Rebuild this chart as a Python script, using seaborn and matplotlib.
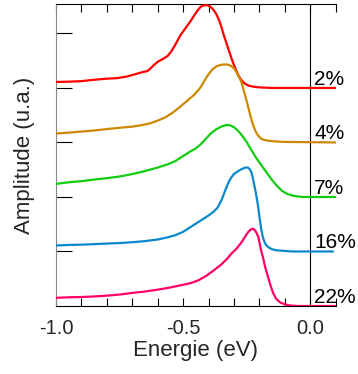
import numpy as np
import pandas as pd
import matplotlib
matplotlib.use("Agg")
import matplotlib.pyplot as plt
import seaborn as sns
from matplotlib.ticker import MultipleLocator, FixedLocator

# ---- data ----
labels = ["2%", "4%", "7%", "16%", "22%"]
offsets = [4, 3, 2, 1, 0]
colors = ["#FF0000", "#CC8800", "#11CC11", "#0A88CC", "#FF0066"]

x_2 = [-1.00, -0.95, -0.90, -0.85, -0.80, -0.76, -0.72, -0.69, -0.66, -0.64, -0.63, -0.615,
       -0.60, -0.58, -0.56, -0.545, -0.53, -0.51, -0.49, -0.47, -0.455, -0.44, -0.43, -0.42,
       -0.41, -0.40, -0.39, -0.38, -0.37, -0.36, -0.35, -0.34, -0.33, -0.32, -0.31, -0.30,
       -0.29, -0.28, -0.27, -0.26, -0.25, -0.24, -0.22, -0.20, -0.15, 0.10]
y_2 = [0.11, 0.115, 0.125, 0.15, 0.17, 0.18, 0.21, 0.25, 0.29, 0.31, 0.35, 0.42,
       0.48, 0.53, 0.59, 0.68, 0.80, 0.97, 1.10, 1.23, 1.34, 1.44, 1.49, 1.515,
       1.52, 1.51, 1.48, 1.43, 1.36, 1.26, 1.13, 0.97, 0.83, 0.69, 0.55, 0.42,
       0.31, 0.21, 0.14, 0.09, 0.06, 0.04, 0.02, 0.01, 0.0, 0.0]

x_4 = [-1.00, -0.95, -0.90, -0.85, -0.80, -0.75, -0.70, -0.66, -0.63, -0.60, -0.57, -0.54,
       -0.51, -0.48, -0.46, -0.44, -0.43, -0.42, -0.41, -0.40, -0.39, -0.38, -0.37, -0.355,
       -0.34, -0.325, -0.31, -0.30, -0.29, -0.28, -0.27, -0.26, -0.25, -0.24, -0.23, -0.22,
       -0.21, -0.20, -0.19, -0.17, -0.14, -0.10, 0.10]
y_4 = [0.165, 0.18, 0.20, 0.22, 0.245, 0.27, 0.29, 0.32, 0.35, 0.40, 0.46, 0.55,
       0.66, 0.78, 0.86, 0.96, 1.02, 1.10, 1.18, 1.25, 1.31, 1.36, 1.39, 1.42,
       1.43, 1.43, 1.40, 1.36, 1.29, 1.20, 1.10, 0.93, 0.76, 0.58, 0.40, 0.26,
       0.16, 0.10, 0.06, 0.035, 0.02, 0.01, 0.0]

x_7 = [-1.00, -0.95, -0.90, -0.85, -0.80, -0.75, -0.70, -0.65, -0.60, -0.56, -0.53, -0.50,
       -0.47, -0.45, -0.43, -0.41, -0.39, -0.37, -0.35, -0.33, -0.315, -0.30, -0.285, -0.27,
       -0.25, -0.23, -0.21, -0.19, -0.17, -0.15, -0.13, -0.11, -0.09, -0.07, -0.05, -0.03,
       0.10]
y_7 = [0.24, 0.27, 0.29, 0.32, 0.345, 0.375, 0.42, 0.475, 0.54, 0.60, 0.66, 0.75,
       0.84, 0.89, 0.97, 1.07, 1.17, 1.24, 1.29, 1.32, 1.315, 1.28, 1.22, 1.14,
       1.01, 0.85, 0.70, 0.57, 0.44, 0.31, 0.20, 0.11, 0.055, 0.025, 0.01, 0.0,
       0.0]

x_16 = [-1.00, -0.95, -0.90, -0.85, -0.80, -0.75, -0.70, -0.65, -0.60, -0.56, -0.53, -0.50,
        -0.48, -0.46, -0.44, -0.42, -0.40, -0.38, -0.365, -0.35, -0.34, -0.33, -0.32, -0.31,
        -0.30, -0.285, -0.27, -0.255, -0.245, -0.238, -0.232, -0.226, -0.22, -0.214, -0.208,
        -0.203, -0.198, -0.193, -0.188, -0.182, -0.175, -0.165, -0.15, -0.13, -0.10, -0.07,
        0.09]
y_16 = [0.11, 0.12, 0.125, 0.135, 0.145, 0.155, 0.17, 0.19, 0.22, 0.26, 0.30, 0.36,
        0.42, 0.48, 0.54, 0.60, 0.66, 0.73, 0.80, 0.93, 1.05, 1.17, 1.28, 1.36,
        1.42, 1.47, 1.51, 1.54, 1.54, 1.51, 1.46, 1.36, 1.22, 1.08, 0.92,
        0.76, 0.58, 0.42, 0.30, 0.20, 0.13, 0.08, 0.04, 0.02, 0.01, 0.0,
        0.0]

x_22 = [-1.00, -0.95, -0.90, -0.85, -0.80, -0.75, -0.70, -0.65, -0.60, -0.55, -0.51, -0.47,
        -0.44, -0.41, -0.38, -0.35, -0.33, -0.31, -0.29, -0.27, -0.255, -0.245, -0.235, -0.228,
        -0.222, -0.216, -0.21, -0.204, -0.198, -0.192, -0.185, -0.178, -0.17, -0.162, -0.157,
        -0.146, -0.135, -0.12, -0.10, -0.08, -0.05, 0.10]
y_22 = [0.15, 0.16, 0.165, 0.175, 0.19, 0.21, 0.24, 0.265, 0.30, 0.34, 0.38, 0.42,
        0.47, 0.55, 0.65, 0.76, 0.85, 0.96, 1.05, 1.17, 1.28, 1.35, 1.40, 1.415,
        1.41, 1.38, 1.33, 1.27, 1.13, 1.00, 0.88, 0.73, 0.60, 0.47, 0.39,
        0.24, 0.14, 0.07, 0.03, 0.01, 0.0, 0.0]

xs = [x_2, x_4, x_7, x_16, x_22]
ys = [y_2, y_4, y_7, y_16, y_22]

frames = []
for lab, off, xv, yv in zip(labels, offsets, xs, ys):
    frames.append(pd.DataFrame({"E": xv, "A": np.array(yv) + off, "lab": lab}))
df = pd.concat(frames, ignore_index=True)

# ---- style ----
sns.set_style("ticks")
plt.rcParams["font.family"] = ["Liberation Sans", "DejaVu Sans"]

fig = plt.figure(figsize=(3.58, 3.74), dpi=100)
ax = fig.add_axes([56 / 358, 1 - 306 / 374, (335.6 - 56) / 358, (306 - 4) / 374])

ax.axvline(0, color="black", lw=0.8, zorder=1)

sns.lineplot(data=df, x="E", y="A", hue="lab", palette=dict(zip(labels, colors)),
             hue_order=labels, sort=False, estimator=None, legend=False,
             linewidth=1.6, ax=ax, zorder=3)

for lab, off in zip(labels, offsets):
    ax.text(0.016, off + 0.06, lab, ha="left", va="baseline", fontsize=15, color="black")

ax.set_xlim(-1.0, 0.1)
ax.set_ylim(0, 5.54)

ax.xaxis.set_major_locator(FixedLocator([-1.0, -0.5, 0.0]))
ax.xaxis.set_minor_locator(MultipleLocator(0.1))
ax.set_xticklabels(["-1.0", "-0.5", "0.0"])
ax.tick_params(axis="x", which="both", direction="in", top=True, bottom=True,
               length=5.5, width=0.8, color="black", labelsize=14.5, pad=9)
ax.yaxis.set_major_locator(FixedLocator([1, 2, 3, 4, 5]))
ax.yaxis.set_minor_locator(FixedLocator([]))
ax.tick_params(axis="y", which="both", direction="in", left=True, right=False,
               length=11.5, width=0.8, color="black", labelleft=False)

for s in ["top", "bottom"]:
    ax.spines[s].set_color("black")
    ax.spines[s].set_linewidth(0.8)
ax.spines["left"].set_color("#888888")
ax.spines["left"].set_linewidth(0.8)
ax.spines["right"].set_visible(False)

ax.set_xlabel("Energie (eV)", fontsize=16, labelpad=2)
ax.set_ylabel("Amplitude (u.a.)", fontsize=16, labelpad=15)

fig.savefig("out.png", dpi=100)
